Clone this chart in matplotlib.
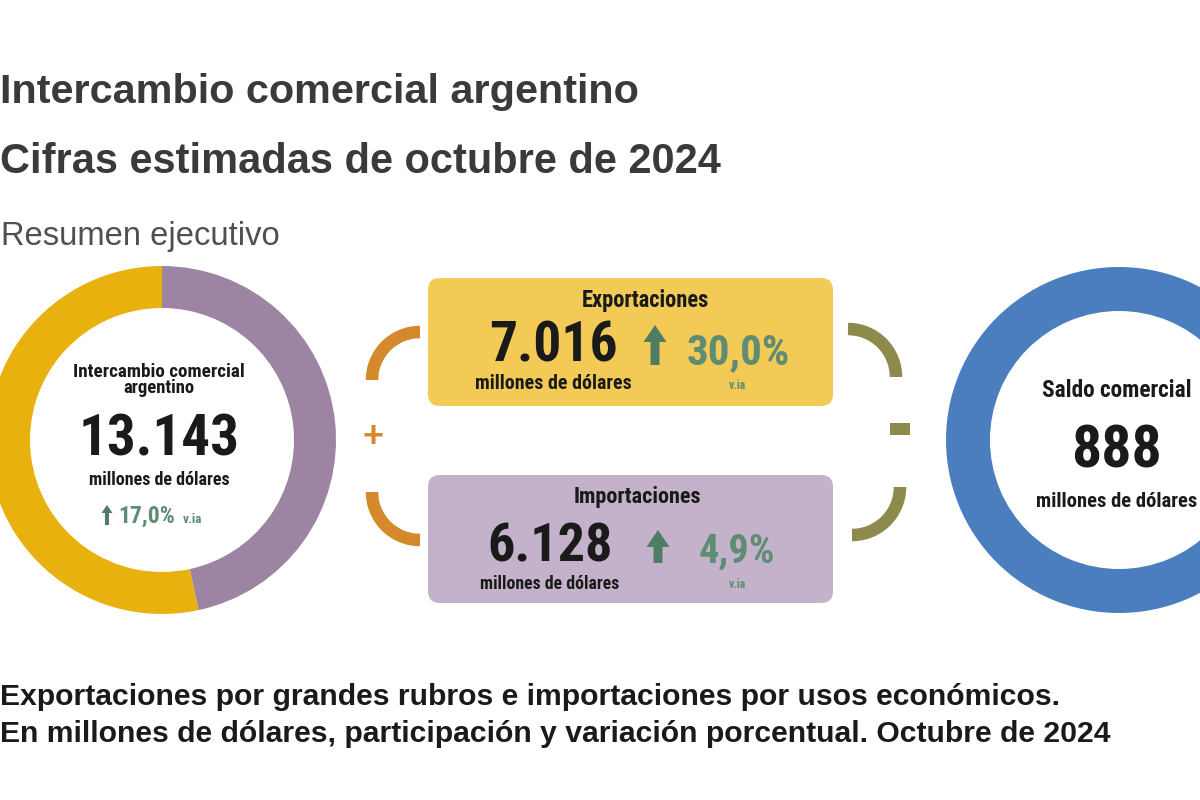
import matplotlib
matplotlib.use("Agg")
import matplotlib.pyplot as plt
from matplotlib import font_manager as fm
from matplotlib.patches import Arc, FancyBboxPatch, Rectangle, FancyArrow

# ---------------- data ----------------
title_lines = ["Intercambio comercial argentino", "Cifras estimadas de octubre de 2024"]
subtitle = "Resumen ejecutivo"
footer_lines = ["Exportaciones por grandes rubros e importaciones por usos económicos.",
                "En millones de dólares, participación y variación porcentual. Octubre de 2024"]
flow_labels = ["Exportaciones", "Importaciones"]
flow_values = [7016, 6128]          # millones de dólares
flow_var = [30.0, 4.9]              # variación interanual %
total_label = ["Intercambio comercial", "argentino"]
total_value = 13143
total_var = 17.0
balance_label = "Saldo comercial"
balance_value = 888
unit = "millones de dólares"
via = "v.ia"

# ---------------- style ----------------
C_YEL = "#E9B10E"
C_PUR = "#9D84A2"
C_BOX_Y = "#F2CA55"
C_BOX_P = "#C4B2CB"
C_BLUE = "#4A7EBF"
C_ORA = "#D4892C"
C_OLI = "#8D8A4C"
C_GRN = "#5E8D73"
C_GRN_D = "#4E7D63"
C_TXT = "#1a1a1a"
SANS = ["Liberation Sans", "DejaVu Sans"]

# choose a condensed family if one is installed
_fonts = fm.fontManager.ttflist
_names = {f.name for f in _fonts}
NARROW = None
STRETCH = "normal"
for cand in ["Liberation Sans Narrow", "DejaVu Sans Condensed", "Roboto Condensed",
             "Open Sans Condensed", "Noto Sans Condensed"]:
    if cand in _names:
        NARROW = [cand, "DejaVu Sans"]
        break
if NARROW is None:
    cond = [f.name for f in _fonts if str(f.stretch) in ("condensed", "semi-condensed", "extra-condensed")
            and str(f.weight) in ("700", "bold")]
    if cond:
        NARROW = [cond[0], "DejaVu Sans"]
        STRETCH = "condensed"
if NARROW is None:
    NARROW = ["Roboto", "Liberation Sans", "DejaVu Sans"]


def fmt(v):
    return f"{v:,}".replace(",", ".")


def pct(v):
    return f"{v:.1f}%".replace(".", ",")


fig = plt.figure(figsize=(12, 8), dpi=100)
ax = fig.add_axes([0, 0, 1, 1])
H = 800


def Y(py):
    return H - py


renderer = fig.canvas.get_renderer()


def txt(x, y, s, size, width=None, ha="left", family=None, weight="bold", color=C_TXT,
        va="baseline", **kw):
    if family is None:
        family = NARROW
        kw.setdefault("fontstretch", STRETCH)
    t = ax.text(x, Y(y), s, fontsize=size, ha=ha, va=va, family=family, weight=weight,
                color=color, **kw)
    if width is not None:
        w = t.get_window_extent(renderer=renderer).width
        t.set_fontsize(size * width / w)
    return t


def up_arrow(x, ybot, ytop, shaft, head, head_len, color=C_GRN_D):
    ax.add_patch(FancyArrow(x, Y(ybot), 0, ybot - ytop, width=shaft, head_width=head,
                            head_length=head_len, length_includes_head=True,
                            fc=color, ec="none"))


# ---------------- donuts ----------------
ring_w = 42
cx_l, cy_l, r_l = 162, 440, 174
ax.pie(flow_values, colors=[C_YEL, C_PUR], startangle=90, counterclock=True,
       radius=r_l, center=(cx_l, Y(cy_l)),
       wedgeprops=dict(width=ring_w, edgecolor="none"), frame=True)
cx_r, cy_r, r_r = 1119, 440, 173
ax.pie([balance_value], colors=[C_BLUE], startangle=90,
       radius=r_r, center=(cx_r, Y(cy_r)),
       wedgeprops=dict(width=ring_w + 2, edgecolor="none"), frame=True)

# ---------------- header ----------------
txt(0, 103, title_lines[0], 30, width=640, family=SANS, color="#3a3a3a")
txt(0, 173, title_lines[1], 30, width=720, family=SANS, color="#3a3a3a")
txt(1, 245, subtitle, 24, width=279, family=SANS, weight="normal", color="#505050")

# ---------------- left donut text ----------------
txt(cx_l - 3, 377, total_label[0], 14, width=172, ha="center")
txt(cx_l - 3, 393, total_label[1], 14, width=72, ha="center")
txt(cx_l - 3, 455, fmt(total_value), 41, ha="center")
txt(cx_l - 3, 485, unit, 13, width=140, ha="center")
up_arrow(107, 525, 505, 4, 11, 8)
txt(118, 523, pct(total_var), 17, color=C_GRN)
txt(183, 523, via, 9.5, color=C_GRN)

# ---------------- middle boxes ----------------
boxes = [(428, 278, C_BOX_Y), (428, 475, C_BOX_P)]
for (bx, by, bc) in boxes:
    ax.add_patch(FancyBboxPatch((bx + 12, Y(by + 128) + 12), 405 - 24, 128 - 24,
                                boxstyle="round,pad=12", fc=bc, ec="none"))

# exports
txt(645, 307, flow_labels[0], 16, width=128, ha="center")
txt(553, 362, fmt(flow_values[0]), 40, ha="center")
up_arrow(655, 365, 325, 9, 23, 17)
txt(738, 364, pct(flow_var[0]), 31, ha="center", color=C_GRN)
txt(553, 389, unit, 15, width=156, ha="center")
txt(737, 389, via, 8.5, ha="center", color=C_GRN)
# imports
txt(637, 503, flow_labels[1], 16, width=128, ha="center")
txt(550, 562, fmt(flow_values[1]), 39, ha="center")
up_arrow(658, 563, 530, 9, 23, 17)
txt(737, 563, pct(flow_var[1]), 29, ha="center", color=C_GRN)
txt(550, 589, unit, 14, width=140, ha="center")
txt(737, 588, via, 8.5, ha="center", color=C_GRN)

# ---------------- brackets and signs ----------------
lw = 9
for (acx, acy, t1, t2, col) in [(420, 380, 90, 180, C_ORA), (420, 492, 180, 270, C_ORA),
                                 (848, 377, 0, 90, C_OLI), (852, 487, 270, 360, C_OLI)]:
    ax.add_patch(Arc((acx, Y(acy)), 96, 96, theta1=t1, theta2=t2, lw=lw, color=col))
txt(373, 438, "+", 26, ha="center", va="center", family=SANS, color=C_ORA)
ax.add_patch(Rectangle((890, Y(435)), 20, 12, fc=C_OLI, ec="none"))

# ---------------- right donut text ----------------
txt(cx_r - 2, 397, balance_label, 17, width=150, ha="center")
txt(cx_r - 2, 468, fmt(balance_value), 43, ha="center")
txt(cx_r - 2, 507, unit, 15, width=162, ha="center")

# ---------------- footer ----------------
txt(0, 705, footer_lines[0], 20, width=1060, family=SANS)
txt(0, 742, footer_lines[1], 20, width=1110, family=SANS)

ax.set_xlim(0, 1200)
ax.set_ylim(0, 800)
ax.set_aspect("equal")
ax.axis("off")
fig.savefig("out.png", dpi=100, facecolor="white")
